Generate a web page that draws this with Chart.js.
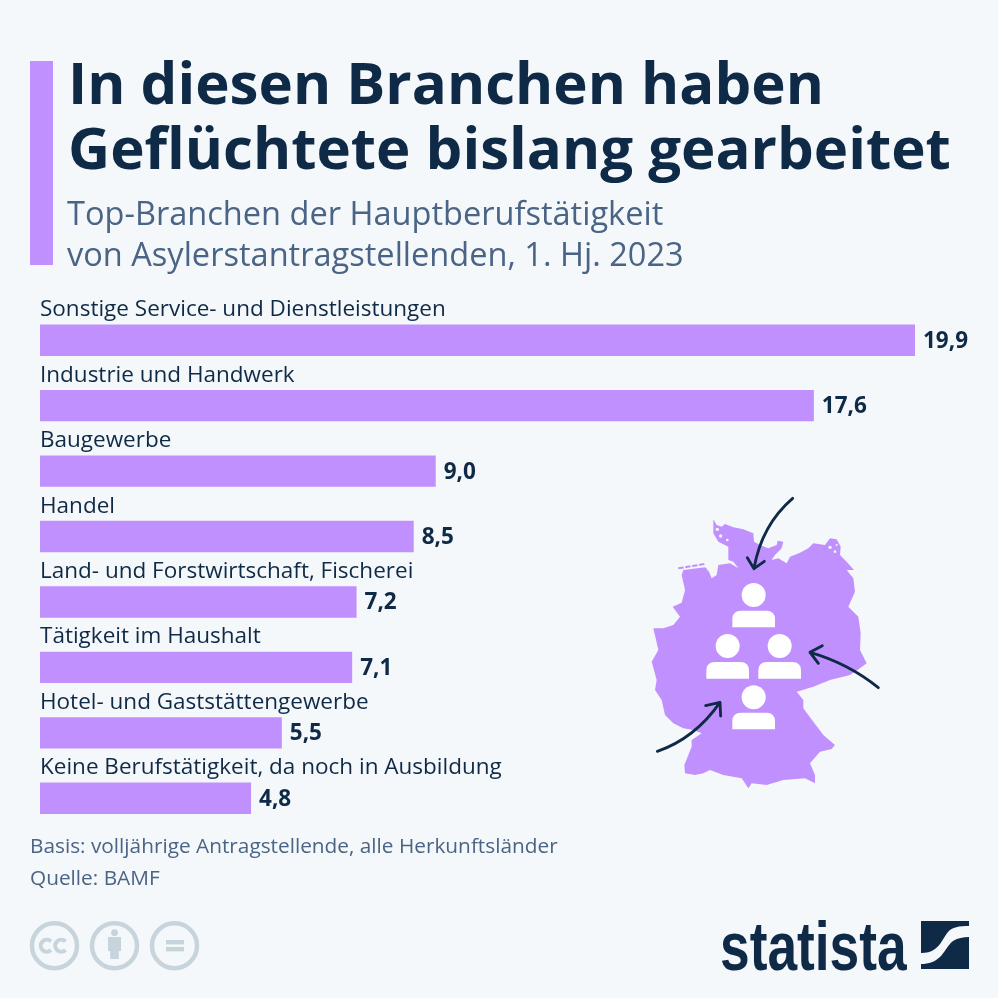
<!DOCTYPE html>
<html lang="de">
<head>
<meta charset="utf-8">
<title>In diesen Branchen haben Geflüchtete bislang gearbeitet</title>
<script src="https://cdn.jsdelivr.net/npm/chart.js@4/dist/chart.umd.min.js"></script>
<style>
  html, body { margin: 0; padding: 0; background: #f5f8fb; }
  #page { position: relative; width: 998px; height: 998px; overflow: hidden; background: #f5f8fb; font-family: "Open Sans", sans-serif; }
  #page > * { position: absolute; }
  #accent { left: 30px; top: 61px; width: 23px; height: 204px; background: #c190ff; }
  h1 { margin: 0; left: 68px; top: 49px; font-size: 58.2px; line-height: 65px; font-weight: 700; color: #0f2a47; white-space: nowrap; }
  h2 { margin: 0; left: 67px; top: 192px; font-size: 32.55px; line-height: 41px; font-weight: 400; color: #4a6485; white-space: nowrap; }
  .foot { left: 30px; font-size: 20.8px; line-height: 28px; color: #4a6485; white-space: nowrap; }
  #logo { left: 720px; top: 909.5px; font-family: "Liberation Sans", sans-serif; font-weight: 700; font-size: 68px; line-height: 72px; color: #0f2a47; transform: scaleX(0.784); transform-origin: 0 0; white-space: nowrap; }
</style>
</head>
<body>
<div id="page">
  <canvas id="chart" width="998" height="998" style="left:0;top:0"></canvas>
  <div id="accent"></div>
  <h1>In diesen Branchen haben<br>Geflüchtete bislang gearbeitet</h1>
  <h2>Top-Branchen der Hauptberufstätigkeit<br>von Asylerstantragstellenden, 1. Hj. 2023</h2>
  <div class="foot" style="top:831px">Basis: volljährige Antragstellende, alle Herkunftsländer</div>
  <div class="foot" style="top:863px">Quelle: BAMF</div>

  <!-- Deutschlandkarte mit Personen und Pfeilen -->
  <svg style="left:640px;top:490px" width="250" height="310" viewBox="0 0 750 930">
    <path fill="#c190ff" d="M220 88 L230 105 L245 110 L255 102 L280 112 L310 118 L340 130 L342 155 L360 165 L385 175 L410 165 L413 152 L430 155 L425 175 L405 195 L395 210 L415 205 L440 220 L450 200 L480 188 L505 175 L520 160 L555 165 L570 145 L590 148 L602 170 L600 195 L620 215 L642 240 L620 240 L640 265 L645 305 L625 350 L655 380 L662 430 L660 480 L680 520 L660 535 L630 555 L570 570 L520 590 L470 605 L490 630 L490 655 L520 695 L550 735 L585 765 L575 777 L540 785 L510 820 L525 855 L525 880 L495 865 L430 870 L380 885 L335 880 L325 895 L305 865 L250 855 L210 840 L190 850 L165 855 L135 850 L133 825 L155 770 L155 750 L185 730 L160 720 L130 715 L100 700 L75 675 L65 630 L45 600 L50 570 L35 515 L55 480 L40 415 L70 415 L100 405 L120 380 L98 350 L125 338 L135 300 L125 255 L130 240 L195 232 L205 240 L215 265 L230 255 L235 225 L270 220 L295 235 L280 215 L265 210 L265 170 L235 155 L220 130 Z"/>
    <!-- Inseln und kleine Lücken an der Küste -->
    <path fill="none" stroke="#c190ff" stroke-width="6" stroke-dasharray="16 5" d="M115 235 L195 222"/>
    <g fill="#f5f8fb">
      <circle cx="232" cy="118" r="5"/><circle cx="242" cy="138" r="5"/><circle cx="262" cy="150" r="4"/>
      <circle cx="570" cy="172" r="5"/><circle cx="585" cy="185" r="4"/><circle cx="590" cy="165" r="3"/>
      <circle cx="205" cy="240" r="3"/>
    </g>
    <g fill="#fff">
      <circle cx="341" cy="315" r="36"/><path d="M277 412 V388 Q277 362 303 362 H379 Q405 362 405 388 V412 Z"/>
      <circle cx="263" cy="468" r="36"/><path d="M199 566 V542 Q199 516 225 516 H301 Q327 516 327 542 V566 Z"/>
      <circle cx="419" cy="468" r="36"/><path d="M355 566 V542 Q355 516 381 516 H457 Q483 516 483 542 V566 Z"/>
      <circle cx="341" cy="622" r="36"/><path d="M277 718 V694 Q277 668 303 668 H379 Q405 668 405 694 V718 Z"/>
    </g>
    <g fill="none" stroke="#0f2a47" stroke-width="8.5" stroke-linecap="round" stroke-linejoin="round">
      <path d="M458 25 Q365 105 342 235 M322 203 L342 236 L373 214"/>
      <path d="M715 593 Q625 520 510 487 M547 467 L510 487 L535 520"/>
      <path d="M52 784 Q165 745 240 637 M197 647 L240 637 L242 678"/>
    </g>
  </svg>

  <!-- CC-Symbole -->
  <svg style="left:0;top:900px" width="220" height="90" viewBox="0 0 220 90">
    <g fill="none" stroke="#c8d4dc" stroke-width="4.5">
      <circle cx="54.5" cy="45.7" r="22.5"/><circle cx="114.5" cy="45.7" r="22.5"/><circle cx="174.5" cy="45.7" r="22.5"/>
      <path stroke-width="4" d="M51 41.5 A6 6 0 1 0 51 50 M65.5 41.5 A6 6 0 1 0 65.5 50"/>
    </g>
    <g fill="#c8d4dc">
      <circle cx="114.5" cy="32.7" r="3.4"/><rect x="108" y="37" width="13" height="14"/><rect x="110.2" y="50" width="8.6" height="9"/>
      <rect x="166" y="40" width="18" height="4.4"/><rect x="166" y="47" width="18" height="4.4"/>
    </g>
  </svg>

  <div id="logo">statista</div>
  <svg style="left:921px;top:921px" width="48" height="48" viewBox="0 0 48 48">
    <path fill="#0f2a47" d="M0 0 H48 V5 C38 5 31 6 27 11 C22 17 20 24 14 28 C10 31 5 32 0 32 Z"/>
    <path fill="#0f2a47" d="M48 16 V48 H0 V43 C8 43 14 41 20 35 C25 29 27 24 32 20 C37 17 42 16 48 16 Z"/>
  </svg>
</div>

<script>
const categories = [
  "Sonstige Service- und Dienstleistungen",
  "Industrie und Handwerk",
  "Baugewerbe",
  "Handel",
  "Land- und Forstwirtschaft, Fischerei",
  "Tätigkeit im Haushalt",
  "Hotel- und Gaststättengewerbe",
  "Keine Berufstätigkeit, da noch in Ausbildung"
];
const shares = [19.9, 17.6, 9.0, 8.5, 7.2, 7.1, 5.5, 4.8];

// labels sit above the bars, values right of them
const barText = {
  id: "barText",
  afterDatasetsDraw(chart) {
    const { ctx, scales: { x, y } } = chart;
    ctx.save();
    categories.forEach((name, i) => {
      const cy = y.getPixelForValue(i);
      ctx.textAlign = "left";
      ctx.textBaseline = "alphabetic";
      ctx.font = '400 22.5px "Open Sans"';
      ctx.fillStyle = "#0f2a47";
      ctx.fillText(name, x.getPixelForValue(0), cy - 24);
      ctx.textBaseline = "middle";
      ctx.font = '700 22.5px "Open Sans"';
      ctx.fillText(shares[i].toFixed(1).replace(".", ","), x.getPixelForValue(shares[i]) + 8, cy + 1);
    });
    ctx.restore();
  }
};

const chart = new Chart(document.getElementById("chart").getContext("2d"), {
  type: "bar",
  data: {
    labels: categories,
    datasets: [{
      label: "Anteil",
      data: shares,
      backgroundColor: "#c190ff",
      borderWidth: 0,
      categoryPercentage: 1,
      barPercentage: 0.48
    }]
  },
  options: {
    indexAxis: "y",
    responsive: false,
    animation: false,
    layout: { padding: { left: 40, right: 78.6, top: 307.5, bottom: 167 } },
    plugins: { legend: { display: false }, tooltip: { enabled: false } },
    scales: {
      x: { display: false, min: 0, max: 20 },
      y: { display: false }
    }
  },
  plugins: [barText]
});
</script>
</body>
</html>
